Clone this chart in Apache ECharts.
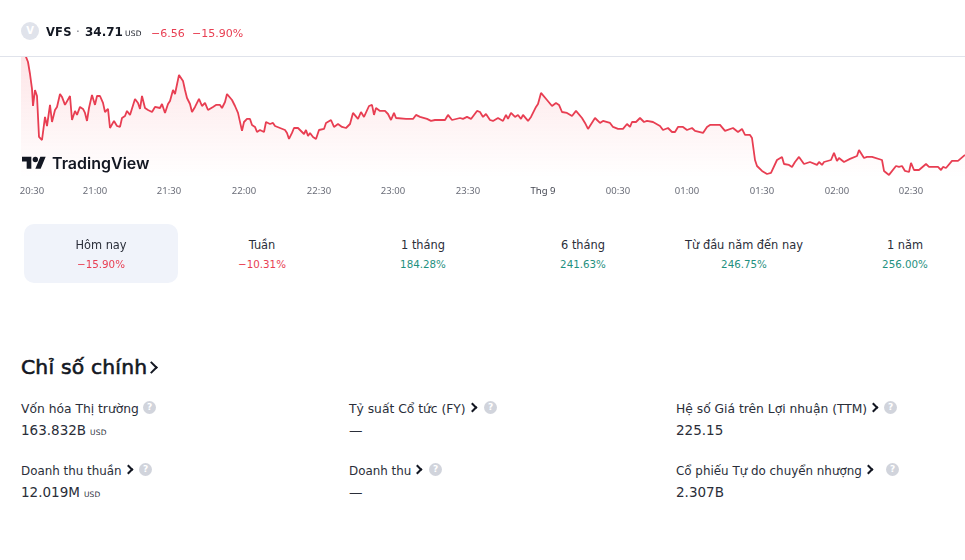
<!DOCTYPE html>
<html>
<head>
<meta charset="utf-8">
<script src="https://cdn.jsdelivr.net/npm/echarts@6/dist/echarts.min.js"></script>
<style>
  html, body { margin: 0; background: #fff; overflow: hidden; }
  body { width: 965px; height: 560px; position: relative; font-family: "DejaVu Sans", sans-serif; color: #131722; }
  .abs { position: absolute; white-space: nowrap; }
  #main_chart { position: absolute; left: 0; top: 0; width: 965px; height: 200px; }
  .rule { position: absolute; left: 0; top: 56px; width: 965px; height: 1px; background: #e0e3eb; }
  .badge { left: 21px; top: 22px; width: 18px; height: 18px; border-radius: 50%; background: #e0e3eb; color: #fff; font-size: 10px; font-weight: bold; line-height: 18px; text-align: center; }
  .logo { left: 22px; top: 154px; }
  .wordmark { left: 52px; top: 154px; font: 600 16px/18px "Inter", sans-serif; letter-spacing: 0; }
  .pill { left: 24px; top: 224px; width: 154px; height: 59px; border-radius: 10px; background: #f0f3fa; }
  .period { font-size: 11.4px; line-height: 16px; text-align: center; transform: translateX(-50%); color: #2a2e39; }
  .change { font-size: 10.3px; line-height: 14px; text-align: center; transform: translateX(-50%); }
  .down { color: #e83e52; }
  .up { color: #1f9080; }
  .unit { font-size: 7.5px; letter-spacing: 0.2px; font-weight: normal; -webkit-text-stroke: 0; }
  .heading { left: 21px; top: 353px; font-size: 20.3px; line-height: 28px; -webkit-text-stroke: 0.6px #131722; letter-spacing: 0.2px; }
  .stat-name { font-size: 12.3px; line-height: 16px; color: #2a2e39; }
  .stat-value { font-size: 13.5px; line-height: 18px; color: #2a2e39; }
  .chev { display: inline-block; width: 5px; height: 5px; margin: 0 0 2px 3px; border-top: 2px solid #131722; border-right: 2px solid #131722; transform: rotate(45deg); }
  .help { display: inline-block; position: absolute; width: 13px; height: 13px; border-radius: 50%; background: #d1d4dc; color: #fff; font-size: 9px; font-weight: bold; line-height: 13px; text-align: center; }
</style>
</head>
<body>
<div id="main_chart"></div>
<div class="rule"></div>
<div id="page"></div>
<script>
// bar number along the time scale and last price of that bar
const bars = [
  0, 2.0, 2.8, 3.6, 4.4, 4.8, 5.6, 6.4, 7.2, 8.4, 9.6, 10.4, 11.6, 12.4, 13.6, 14.4, 15.6, 16.4, 17.6, 19.6,
  20.4, 21.6, 22.4, 23.6, 24.8, 25.6, 26.4, 27.2, 28.4, 29.6, 30.4, 31.6, 32.8, 33.6, 34.8, 35.6, 37.2, 38.4, 39.6, 40.4,
  41.6, 42.4, 43.6, 44.4, 45.6, 46.8, 47.6, 48.4, 49.6, 50.8, 52.4, 53.6, 55.6, 56.4, 57.6, 58.8, 59.6, 60.8, 61.6, 63.2,
  64.8, 65.6, 66.4, 67.6, 68.4, 69.6, 70.4, 71.2, 72.4, 73.6, 74.8, 75.6, 76.8, 78.0, 79.6, 80.4, 81.6, 82.4, 84.4, 85.6,
  86.8, 87.6, 88.4, 89.2, 90.4, 91.6, 92.4, 93.6, 94.4, 95.6, 97.2, 98.0, 99.6, 100.8, 101.6, 102.4, 103.6, 105.6, 106.4, 107.2,
  108.4, 109.2, 110.8, 111.6, 113.2, 114.0, 114.8, 115.6, 116.8, 118.0, 119.2, 121.2, 122.0, 124.0, 125.2, 126.8, 128.4, 130.0, 131.6, 132.8,
  134.8, 136.0, 137.2, 139.2, 140.4, 141.2, 142.0, 143.6, 145.6, 146.8, 148.0, 149.2, 150.0, 154.0, 154.8, 156.8, 158.0, 159.6, 162.4, 164.0,
  165.6, 169.6, 170.8, 172.4, 173.2, 175.6, 176.8, 178.4, 180.0, 182.4, 183.6, 184.8, 186.0, 187.6, 188.8, 190.8, 192.8, 194.0, 194.8, 196.0,
  197.6, 198.8, 200.0, 200.8, 202.8, 204.0, 204.8, 206.0, 206.8, 208.0, 208.8, 210.4, 212.4, 214.0, 215.2, 216.4, 218.4, 218.8, 220.4, 222.0,
  222.8, 224.4, 225.6, 226.8, 229.6, 231.6, 232.8, 235.6, 236.8, 237.6, 238.8, 240.8, 242.4, 243.6, 244.4, 246.0, 247.6, 249.2, 250.4, 252.8,
  255.6, 256.8, 258.8, 260.4, 261.6, 262.8, 264.8, 266.4, 268.4, 269.6, 272.8, 274.4, 275.6, 279.6, 281.6, 282.4, 284.8, 286.8, 288.4, 289.6,
  291.6, 292.4, 293.6, 294.4, 296.4, 298.4, 300.0, 302.4, 304.4, 305.2, 307.2, 308.4, 309.6, 311.2, 313.2, 315.6, 318.4, 319.2, 320.4, 321.2,
  324.0, 325.2, 326.4, 327.2, 329.2, 331.6, 332.4, 334.4, 335.2, 337.2, 338.4, 339.2, 340.4, 344.4, 345.2, 347.2, 350.0, 351.2, 352.4, 353.6,
  355.2, 356.0, 357.2, 359.2, 362.0, 363.2, 366.8, 368.0, 368.8, 370.0, 372.4, 374.8, 377.6
];
const prices = [
  41.97, 41.20, 40.87, 40.09, 39.12, 38.01, 39.05, 38.66, 36.00, 35.80, 37.30, 36.71, 38.08, 36.97, 37.75, 37.95, 38.79, 38.60, 38.08, 38.66,
  37.10, 37.69, 37.43, 37.95, 37.82, 37.56, 37.04, 37.88, 38.73, 38.08, 38.66, 38.66, 38.21, 37.62, 37.82, 36.58, 37.04, 36.71, 36.65, 37.23,
  37.36, 37.69, 37.43, 37.30, 38.47, 38.21, 37.82, 38.66, 37.88, 37.75, 37.62, 37.95, 37.88, 38.14, 37.56, 38.14, 38.34, 39.05, 38.79, 40.03,
  39.64, 39.05, 38.53, 38.14, 37.62, 37.95, 37.88, 38.47, 38.01, 38.21, 37.75, 37.62, 37.95, 38.08, 38.08, 37.88, 38.27, 38.79, 38.40, 38.01,
  37.56, 37.62, 36.39, 36.97, 37.17, 37.17, 36.78, 36.65, 36.32, 36.45, 36.32, 36.97, 36.84, 36.91, 36.71, 36.84, 36.58, 36.45, 36.26, 35.87,
  36.26, 36.58, 36.58, 36.65, 36.19, 36.45, 36.06, 36.26, 36.00, 35.87, 36.45, 36.52, 36.91, 37.10, 36.65, 36.84, 36.65, 36.58, 36.84, 37.56,
  37.17, 37.62, 37.30, 38.01, 38.08, 37.43, 37.88, 37.69, 37.69, 37.49, 37.10, 37.56, 37.23, 37.17, 37.30, 37.17, 37.43, 37.30, 37.17, 37.04,
  37.10, 37.10, 37.43, 37.10, 37.04, 37.23, 37.17, 37.30, 37.17, 37.69, 37.62, 37.30, 37.49, 37.10, 37.04, 37.23, 37.04, 37.43, 37.17, 37.56,
  37.30, 37.43, 37.17, 37.43, 37.04, 37.30, 37.30, 37.95, 38.14, 38.86, 38.79, 38.40, 38.01, 38.21, 38.08, 37.62, 37.56, 37.62, 37.36, 37.69,
  37.56, 37.23, 36.91, 36.52, 37.23, 36.91, 37.04, 36.91, 36.65, 36.78, 36.52, 36.52, 36.84, 36.65, 36.97, 36.97, 37.23, 36.97, 37.04, 36.97,
  36.71, 36.45, 36.58, 36.32, 36.32, 36.65, 36.65, 36.45, 36.58, 36.39, 36.26, 36.65, 36.78, 36.78, 36.39, 36.32, 36.58, 36.32, 36.52, 36.13,
  36.13, 35.93, 34.50, 34.11, 33.79, 33.59, 33.66, 34.50, 34.70, 34.24, 34.18, 34.05, 34.37, 34.70, 34.24, 34.37, 34.18, 34.37, 34.18, 34.37,
  34.50, 34.96, 34.44, 34.63, 34.37, 34.57, 34.44, 34.76, 35.15, 34.63, 34.70, 34.63, 34.70, 34.50, 33.79, 33.53, 34.11, 34.05, 34.11, 33.79,
  33.72, 34.31, 33.85, 33.85, 34.24, 34.05, 34.05, 33.85, 34.05, 33.98, 34.44, 34.44, 34.83
];

const tickBars = [4.4, 29.6, 59.2, 89.2, 119.2, 148.8, 178.8, 208.8, 238.8, 266.4, 296.4, 326.4, 356];
const tickLabels = ["20:30", "21:00", "21:30", "22:00", "22:30", "23:00", "23:30", "Thg 9", "00:30", "01:00", "01:30", "02:00", "02:30"];

const periodNames = ["Hôm nay", "Tuần", "1 tháng", "6 tháng", "Từ đầu năm đến nay", "1 năm"];
const periodChanges = ["−15.90%", "−10.31%", "184.28%", "241.63%", "246.75%", "256.00%"];
const periodCenters = [101, 262, 423, 583, 744, 905];

const statNames = ["Vốn hóa Thị trường", "Tỷ suất Cổ tức (FY)", "Hệ số Giá trên Lợi nhuận (TTM)", "Doanh thu thuần", "Doanh thu", "Cổ phiếu Tự do chuyển nhượng"];
const statLinked = [false, true, true, true, true, true];
const statValues = ["163.832B", "—", "225.15", "12.019M", "—", "2.307B"];
const statUnits = ["USD", "", "", "USD", "", ""];
const statHelpX = [143, 484, 884, 139, 429, 886];

const page = document.getElementById("page");
function add(cls, left, top, html, fontSize) {
  const el = document.createElement("div");
  el.className = "abs " + cls;
  if (left !== null) el.style.left = left + "px";
  if (top !== null) el.style.top = top + "px";
  if (fontSize) el.style.fontSize = fontSize + "px";
  el.innerHTML = html;
  page.appendChild(el);
}

add("badge", null, null, "V");
add("", 46, 21, '<span style="font-size:11.5px;font-weight:600;letter-spacing:.2px">VFS</span>');
add("", 76, 21, '<span style="color:#787b86;font-size:12px">·</span>');
add("", 85, 21, '<span style="font-size:12px;font-weight:700">34.71</span>');
add("unit", 125, 29, "USD");
add("down", 151, 22, '<span style="font-size:11px">−6.56</span>');
add("down", 192, 22, '<span style="font-size:11px">−15.90%</span>');
add("logo", null, null, '<svg width="24" height="19" viewBox="0 0 36 28" style="display:block"><path fill="#131722" d="M14 22H7V11H0V4h14v18zM28 22h-8l7.5-18h8L28 22z"/><circle fill="#131722" cx="20" cy="8" r="4"/></svg>');
add("wordmark", null, null, "TradingView");
add("pill", null, null, "");

periodNames.forEach(function (name, i) {
  add("period", periodCenters[i], 237, name);
  add("change " + (periodChanges[i][0] === "−" ? "down" : "up"), periodCenters[i], 257, periodChanges[i]);
});

add("heading", null, null, 'Chỉ số chính<span class="chev" style="width:7px;height:7px;margin-left:0;border-width:2px"></span>');

const statX = [21, 349, 676];
const statY = [400, 462];
statNames.forEach(function (name, i) {
  const row = Math.floor(i / 3);
  const x = statX[i % 3], y = statY[row];
  add("stat-name", x, y + 1, name + (statLinked[i] ? '<span class="chev"></span>' : ""), row === 1 ? 11.9 : 12.3);
  const unit = statUnits[i] ? '<span class="unit" style="margin-left:4px">' + statUnits[i] + "</span>" : "";
  add("stat-value", x, y + 21, statValues[i] + unit);
  add("help", statHelpX[i], y + 1, "?");
});

var myChart = echarts.init(document.getElementById("main_chart"), null, { renderer: "canvas" });
myChart.setOption({
  animation: false,
  grid: { left: 21, right: 0, top: 57, bottom: 22 },
  xAxis: {
    type: "value",
    min: 0,
    max: 377.6,
    splitLine: { show: false },
    axisLine: { show: false },
    axisTick: { show: false },
    axisLabel: {
      customValues: tickBars,
      margin: 8,
      fontFamily: "Noto Sans",
      fontSize: 9.5,
      color: "#6a6d78",
      formatter: function (value) {
        const label = tickLabels[tickBars.indexOf(value)];
        return label === "Thg 9" ? "{month|" + label + "}" : label;
      },
      rich: { month: { color: "#434651", fontFamily: "Noto Sans", fontSize: 9.5 } }
    }
  },
  yAxis: {
    type: "value",
    show: false,
    min: 33.33,
    max: 41.195
  },
  series: [
    {
      type: "line",
      data: bars.map(function (b, i) { return [b, prices[i]]; }),
      showSymbol: false,
      clip: true,
      lineStyle: { color: "#e83e52", width: 1.8 },
      itemStyle: { color: "#e83e52" },
      areaStyle: {
        origin: "start",
        color: new echarts.graphic.LinearGradient(0, 0, 0, 1, [
          { offset: 0, color: "rgba(242, 54, 69, 0.2)" },
          { offset: 1, color: "rgba(242, 54, 69, 0)" }
        ])
      }
    }
  ]
});
</script>
</body>
</html>
